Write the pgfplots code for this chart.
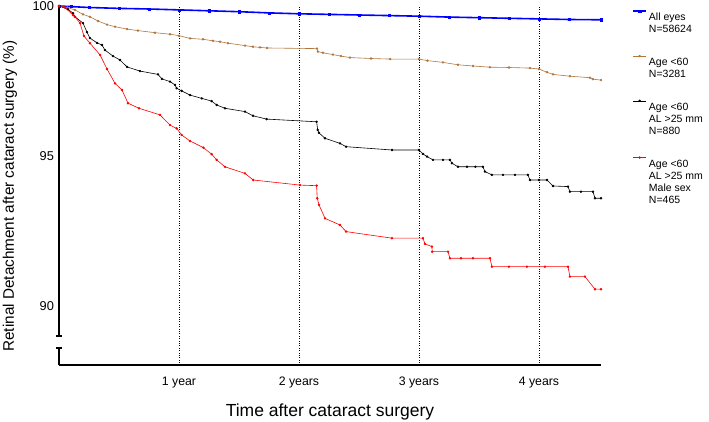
\documentclass[border=0pt]{standalone}
\usepackage{fontspec}
\setmainfont{Liberation Sans}
\usepackage{pgfplots}
\pgfplotsset{compat=1.18}
\definecolor{agebrown}{RGB}{176,118,62}
\begin{document}
\begin{tikzpicture}
\useasboundingbox (0,0) rectangle (709pt,422pt);
\begin{axis}[
  at={(59pt,57pt)}, anchor=south west,
  scale only axis, width=542pt, height=359pt,
  xmin=0, xmax=4.517, ymin=88.033, ymax=100,
  clip=false,
  axis x line*=bottom, axis y line*=left,
  x axis line style={line width=1.3pt,-},
  y axis line style={draw=none},
  xtick={1,2,3,4}, xticklabels={1 year,2 years,3 years,4 years},
  ytick={90,95,100},
  major tick length=0pt,
  xmajorgrids=true, ymajorgrids=false,
  major grid style={dotted, black, line width=0.7pt},
  /pgf/number format/assume math mode=true,
  xticklabel style={font=\fontsize{12.3}{14}\selectfont, yshift=-8.7pt},
  yticklabel style={font=\fontsize{12.8}{14}\selectfont, xshift=-1.5pt},
  xlabel={Time after cataract surgery},
  xlabel style={font=\fontsize{17.5}{20}\selectfont, at={(axis description cs:0.5,-0.0994)}, anchor=north},
  ylabel={Retinal Detachment after cataract surgery (\%)},
  ylabel style={font=\fontsize{15.3}{18}\selectfont, at={(axis description cs:-0.0904,0.4708)}, anchor=center},
  legend cell align=left,
  legend style={at={(axis description cs:1.052,1.005)}, anchor=north west, draw=none, fill=none,
    font=\fontsize{10.5}{12}\selectfont, row sep=15.5pt, nodes={align=left}, cells={anchor=north west}},
  legend image code/.code={\path (0pt,3.9pt); \draw[#1, mark repeat=2, mark phase=2] plot coordinates {(0pt,0pt) (6.5pt,0pt) (13pt,0pt)};},
]
\addplot[color=blue, line width=1.6pt, mark=square*, mark size=1.1pt, mark options={line width=0.4pt}] coordinates {
(0,100) (0.1,99.98) (0.25,99.95) (0.5,99.92) (0.75,99.9) (1.0,99.87) (1.25,99.84) (1.5,99.81)
(1.75,99.77) (2.0,99.74) (2.25,99.72) (2.5,99.70) (2.75,99.68) (3.0,99.66) (3.25,99.63)
(3.5,99.61) (3.75,99.59) (4.0,99.57) (4.25,99.55) (4.517,99.54)};
\addlegendentry{All eyes\\N=58624}
\addplot[color=agebrown, line width=0.6pt, mark=*, mark size=0.9pt] coordinates {
(0,100) (0.07,99.95) (0.133,99.87) (0.2,99.72) (0.258,99.64) (0.325,99.5) (0.4,99.38)
(0.467,99.31) (0.567,99.23) (0.658,99.18) (0.8,99.11) (0.925,99.06) (1.0,99.01)
(1.092,98.92) (1.2,98.89) (1.283,98.84) (1.342,98.81) (1.408,98.76) (1.55,98.68)
(1.617,98.64) (1.675,98.62) (1.733,98.6) (2.15,98.58) (2.158,98.48) (2.2,98.44)
(2.283,98.38) (2.35,98.33) (2.425,98.28) (2.6,98.25) (2.76,98.23) (3.0,98.23)
(3.07,98.18) (3.2,98.12) (3.325,98.04) (3.45,98.0) (3.59,97.96) (3.75,97.95)
(3.925,97.93) (4.0,97.90) (4.067,97.79) (4.117,97.72) (4.258,97.66) (4.425,97.61)
(4.45,97.56) (4.517,97.53)};
\addlegendentry{Age <60\\N=3281}
\addplot[color=black, line width=0.6pt, mark=*, mark size=0.9pt,
  legend image code/.code={\path (0pt,3.9pt); \path (0pt,-36pt); \draw[black, line width=0.6pt, mark=*, mark size=0.9pt, mark repeat=2, mark phase=2] plot coordinates {(0pt,0pt) (6.5pt,0pt) (13pt,0pt)};}] coordinates {
(0,100) (0.075,99.89) (0.117,99.76) (0.133,99.64) (0.2,99.43) (0.233,99.13) (0.258,98.93)
(0.317,98.77) (0.358,98.70) (0.383,98.53) (0.45,98.33) (0.508,98.2) (0.567,97.97)
(0.675,97.83) (0.825,97.72) (0.858,97.57) (0.925,97.48) (0.967,97.37) (0.98,97.26)
(1.022,97.17) (1.092,97.03) (1.19,96.92) (1.272,96.83) (1.314,96.7) (1.383,96.59)
(1.55,96.48) (1.617,96.34) (1.73,96.23) (2.147,96.14) (2.156,95.87) (2.167,95.77)
(2.217,95.59) (2.342,95.42) (2.392,95.31) (2.775,95.2) (3.0,95.2) (3.033,95.07)
(3.067,94.98) (3.117,94.87) (3.2,94.87) (3.258,94.87) (3.275,94.76) (3.325,94.64)
(3.4,94.64) (3.47,94.64) (3.533,94.64) (3.55,94.48) (3.608,94.37) (3.7,94.37)
(3.8,94.37) (3.908,94.37) (3.925,94.2) (4.0,94.2) (4.067,94.2) (4.117,94.0)
(4.242,93.98) (4.258,93.81) (4.35,93.81) (4.45,93.81) (4.467,93.59) (4.517,93.59)};
\addlegendentry{Age <60\\AL >25 mm\\N=880}
\addplot[color=red, line width=0.6pt, mark=*, mark size=0.9pt] coordinates {
(0,100) (0.05,99.95) (0.117,99.7) (0.133,99.64) (0.175,99.43) (0.208,99.0) (0.258,98.76)
(0.342,98.37) (0.4,97.9) (0.467,97.42) (0.525,97.2) (0.575,96.76) (0.667,96.59)
(0.842,96.37) (0.925,96.03) (0.98,95.92) (1.022,95.7) (1.092,95.5) (1.203,95.28)
(1.272,95.06) (1.314,94.87) (1.383,94.64) (1.55,94.42) (1.619,94.2) (2.008,94.03)
(2.147,94.01) (2.152,93.59) (2.167,93.37) (2.217,92.92) (2.342,92.7) (2.392,92.48)
(2.775,92.26) (3.033,92.26) (3.05,92.07) (3.108,91.98) (3.11,91.81) (3.242,91.81)
(3.258,91.59) (3.35,91.59) (3.45,91.59) (3.592,91.59) (3.608,91.31) (3.75,91.31)
(3.9,91.31) (4.05,91.31) (4.242,91.31) (4.258,90.98) (4.383,90.98) (4.467,90.56)
(4.517,90.56)};
\addlegendentry{Age <60\\AL >25 mm\\Male sex\\N=465}
\draw[line width=1.3pt] (axis cs:0,100) -- (axis cs:0,89.0);
\draw[line width=1.3pt] (axis cs:-0.025,89.0) -- (axis cs:0.025,89.0);
\draw[line width=1.3pt] (axis cs:0,88.6) -- (axis cs:0,88.033);
\draw[line width=1.3pt] (axis cs:-0.025,88.6) -- (axis cs:0.025,88.6);
\end{axis}
\end{tikzpicture}
\end{document}
